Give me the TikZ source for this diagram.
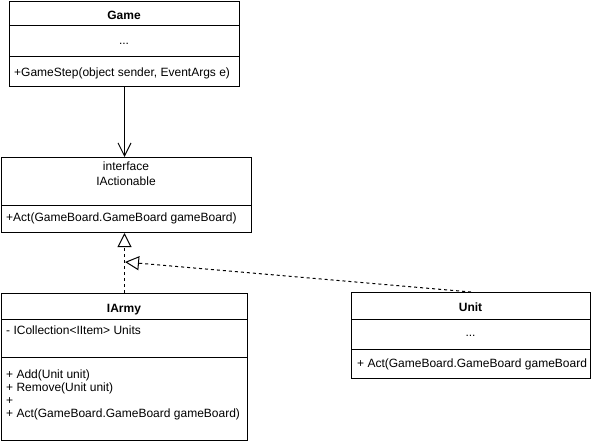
\documentclass[tikz,border=0pt]{standalone}
\usepackage{fontspec}
\setmainfont{Liberation Sans}
\usetikzlibrary{arrows.meta}
\begin{document}
\begin{tikzpicture}[x=1pt,y=-1pt,
  box/.style={draw, line width=1pt, inner sep=0pt, anchor=north west},
  sep/.style={line width=1pt},
  lbl/.style={inner sep=0pt, font=\fontsize{12}{13}\selectfont},
  lblw/.style={lbl, anchor=base west},
  lblc/.style={lbl, anchor=base},
  usearrow/.style={line width=1pt, -{Straight Barb[length=13pt,width=13pt]}},
  realize/.style={line width=1pt, dash pattern=on 3pt off 3pt, -{Triangle[open,length=14pt,width=14pt]}}]
\useasboundingbox (0,0) rectangle (591,444);

% Game
\node[box, minimum width=230pt, minimum height=85pt] (game) at (9,1) {};
\draw[sep] (9,26) -- (239,26);
\draw[sep] (9,57) -- (239,57);
\node[lblc] (gameT) at (124,19.5) {\textbf{Game}};
\node[lblc] (gameA) at (124,45) {...};
\node[lblw] (gameM) at (14,76.5) {+GameStep(object sender, EventArgs e)};

% IActionable
\node[box, minimum width=250pt, minimum height=75pt] (iact) at (1,157) {};
\draw[sep] (1,205) -- (251,205);
\node[lblc] (iactS) at (126,170) {interface};
\node[lblc] (iactT) at (126,185.5) {IActionable};
\node[lblw] (iactM) at (6,221.5) {+Act(GameBoard.GameBoard gameBoard)};

% IArmy
\node[box, minimum width=246pt, minimum height=147pt] (iarmy) at (1,293) {};
\draw[sep] (1,319) -- (247,319);
\node[lblc] (iarmyT) at (124,312.5) {\textbf{IArmy}};
\node[lblw] (iarmyA) at (6,334) {- ICollection<IItem> Units};
\draw[sep] (1,357) -- (247,357);
\node[lblw] (iarmyM1) at (6,378.5) {+ Add(Unit unit)};
\node[lblw] (iarmyM2) at (6,391.5) {+ Remove(Unit unit)};
\node[lblw] (iarmyM3) at (6,404.5) {+};
\node[lblw] (iarmyM4) at (6,417.5) {+ Act(GameBoard.GameBoard gameBoard)};

% Unit
\node[box, minimum width=239pt, minimum height=86pt] (unit) at (351,292) {};
\draw[sep] (351,319) -- (590,319);
\draw[sep] (351,349) -- (590,349);
\node[lblc] (unitT) at (470.5,311.5) {\textbf{Unit}};
\node[lblc] (unitA) at (470.5,336.5) {...};
\node[lblw] (unitM) at (357,367.5) {+ Act(GameBoard.GameBoard gameBoard};

% connectors
\coordinate (j) at (125,262);
\draw[usearrow] (game.south) -- (game.south |- iact.north);
\draw[realize] (iarmy.north) -- (iarmy.north |- iact.south);
\draw[realize] (unit.north) -- (j);
\end{tikzpicture}
\end{document}
